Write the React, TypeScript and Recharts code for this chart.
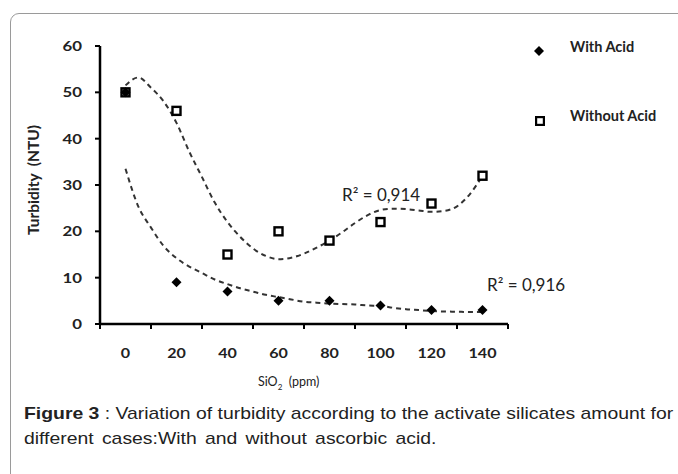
import React from "react";
import { ComposedChart, Line, Scatter, XAxis, YAxis } from "recharts";

// SiO2 doses (ppm)
const doses = [0, 20, 40, 60, 80, 100, 120, 140];
const withAcid = [50, 9, 7, 5, 5, 4, 3, 3];
const withoutAcid = [50, 46, 15, 20, 18, 22, 26, 32];

// trend-line samples
const trendX = [0, 5, 10, 15, 20, 25, 30, 35, 40, 45, 50, 55, 60, 65, 70, 75, 80, 85, 90, 95, 100, 105, 110, 115, 120, 125, 130, 135, 140];
const trendWith = [33.5, 25.4, 20.8, 16.8, 14.2, 12.4, 11, 9.6, 8.6, 7.7, 7, 6.3, 5.8, 5.3, 4.8, 4.6, 4.4, 4.3, 4.2, 4.0, 3.9, 3.5, 3.2, 3.0, 2.8, 2.7, 2.65, 2.6, 2.6];
const trendWithout = [51.5, 53.2, 51, 48, 43.4, 37.2, 31.7, 26.2, 22, 18.8, 16.3, 14.7, 14, 14.3, 15.2, 16.5, 18, 19.8, 21.8, 23.5, 24.6, 24.9, 24.8, 24.5, 24.2, 24.4, 25.4, 28, 32];

const yTicks = [0, 10, 20, 30, 40, 50, 60];
const xBoundaries = [-10, 10, 30, 50, 70, 90, 110, 130, 150];

const seriesNames = ["With Acid", "Without Acid"];
const r2Labels = ["R² = 0,914", "R² = 0,916"];

const withData = doses.map((x, i) => ({ x, y: withAcid[i] }));
const withoutData = doses.map((x, i) => ({ x, y: withoutAcid[i] }));
const trendWithData = trendX.map((x, i) => ({ x, y: trendWith[i] }));
const trendWithoutData = trendX.map((x, i) => ({ x, y: trendWithout[i] }));

const tickFont = "Lato, 'Open Sans', sans-serif";

const Diamond = (props: any) => {
  const { cx, cy } = props;
  if (cx == null || cy == null) return null;
  const s = 5;
  return <polygon points={`${cx},${cy - s} ${cx + s},${cy} ${cx},${cy + s} ${cx - s},${cy}`} fill="#000" />;
};

const Square = (props: any) => {
  const { cx, cy } = props;
  if (cx == null || cy == null) return null;
  return <rect x={cx - 4} y={cy - 4} width={8} height={8} fill="#fff" stroke="#000" strokeWidth={2.4} />;
};

const XTick = (props: any) => {
  const { x, y, payload } = props;
  if (payload.value >= 150) return null;
  return (
    <g transform={`translate(${x + 25.5},${y + 27}) scale(1.15,1)`}>
      <text x={0} y={0} textAnchor="middle" fontFamily={tickFont} fontWeight={700} fontSize={14} fill="#222">
        {payload.value + 10}
      </text>
    </g>
  );
};

const YTick = (props: any) => {
  const { x, y, payload } = props;
  return (
    <g transform={`translate(${x - 11},${y + 5}) scale(1.2,1)`}>
      <text x={0} y={0} textAnchor="end" fontFamily={tickFont} fontWeight={700} fontSize={14} fill="#222">
        {payload.value}
      </text>
    </g>
  );
};

export default function App() {
  return (
    <div style={{ position: "absolute", left: 0, top: 0, width: 678, height: 474, overflow: "hidden", background: "#fff" }}>
      <div style={{ position: "absolute", left: 10, top: 13, width: 720, height: 520, border: "1px solid #9a9a9a", borderRadius: 9 }} />
      <ComposedChart width={678} height={474} margin={{ top: 46, right: 170, bottom: 120, left: 40 }} style={{ position: "absolute", left: 0, top: 0 }}>
        <XAxis
          dataKey="x"
          type="number"
          domain={[-10, 150]}
          ticks={xBoundaries}
          interval={0}
          height={30}
          axisLine={{ stroke: "#000", strokeWidth: 2.5 }}
          tickLine={{ stroke: "#000", strokeWidth: 2 }}
          tickSize={5}
          tick={<XTick />}
        />
        <YAxis
          dataKey="y"
          type="number"
          domain={[0, 60]}
          ticks={yTicks}
          interval={0}
          width={60}
          axisLine={{ stroke: "#000", strokeWidth: 2.5 }}
          tickLine={{ stroke: "#000", strokeWidth: 2 }}
          tickSize={5}
          tick={<YTick />}
          label={{
            content: (p: any) => {
              const vb = p.viewBox;
              const cx = vb.x - 5;
              const cy = vb.y + vb.height / 2 - 5;
              return (
                <text x={cx} y={cy} transform={`rotate(-90 ${cx} ${cy})`} textAnchor="middle" dominantBaseline="middle" fontFamily={tickFont} fontWeight={700} fontSize={15.5} fill="#222" style={{ whiteSpace: "pre" }}>
                  {"Turbidity  (NTU)"}
                </text>
              );
            },
          }}
        />
        <Line data={trendWithoutData} dataKey="y" type="monotone" stroke="#333" strokeWidth={2} strokeDasharray="5 4" dot={false} isAnimationActive={false} />
        <Line data={trendWithData} dataKey="y" type="monotone" stroke="#333" strokeWidth={2} strokeDasharray="5 4" dot={false} isAnimationActive={false} />
        <Scatter data={withoutData} dataKey="y" name={seriesNames[1]} shape={<Square />} isAnimationActive={false} />
        <Scatter data={withData} dataKey="y" name={seriesNames[0]} shape={<Diamond />} isAnimationActive={false} />
      </ComposedChart>

      {/* legend */}
      <div style={{ position: "absolute", left: 534, top: 40, width: 140, fontFamily: tickFont, fontWeight: 700, fontSize: 14.5, color: "#222" }}>
        <div style={{ position: "absolute", left: 0, top: 2, width: 10, height: 10 }}>
          <svg width={10} height={10}><polygon points="5,0 10,5 5,10 0,5" fill="#000" /></svg>
        </div>
        <div style={{ position: "absolute", left: 36, top: -2, whiteSpace: "nowrap" }}>{seriesNames[0]}</div>
        <div style={{ position: "absolute", left: 1, top: 72, width: 10, height: 10 }}>
          <svg width={10} height={10}><rect x={1} y={1} width={8} height={8} fill="#fff" stroke="#000" strokeWidth={2.4} /></svg>
        </div>
        <div style={{ position: "absolute", left: 36, top: 67, whiteSpace: "nowrap" }}>{seriesNames[1]}</div>
      </div>

      {/* R² annotations */}
      <div style={{ position: "absolute", left: 342, top: 184, fontFamily: tickFont, fontSize: 17, lineHeight: "21px", color: "#222", whiteSpace: "nowrap" }}>{r2Labels[0]}</div>
      <div style={{ position: "absolute", left: 487, top: 274, fontFamily: tickFont, fontSize: 17, lineHeight: "21px", color: "#222", whiteSpace: "nowrap" }}>{r2Labels[1]}</div>

      {/* x-axis title */}
      <div style={{ position: "absolute", left: 258, top: 374, fontFamily: tickFont, fontSize: 12.5, color: "#222", whiteSpace: "nowrap" }}>
        SiO<sub style={{ fontSize: 8 }}>2</sub>&nbsp;&nbsp;(ppm)
      </div>

      {/* caption */}
      <div style={{ position: "absolute", left: 24, top: 401, width: 600, fontFamily: "'Liberation Sans', Arial, sans-serif", fontSize: 17, lineHeight: "25px", color: "#222", whiteSpace: "nowrap", transform: "scaleX(1.14)", transformOrigin: "0 0" }}>
        <div><b>Figure 3</b> : Variation of turbidity according to the activate silicates amount for</div>
        <div style={{ wordSpacing: 2.5 }}>different cases:With and without ascorbic acid.</div>
      </div>
    </div>
  );
}
